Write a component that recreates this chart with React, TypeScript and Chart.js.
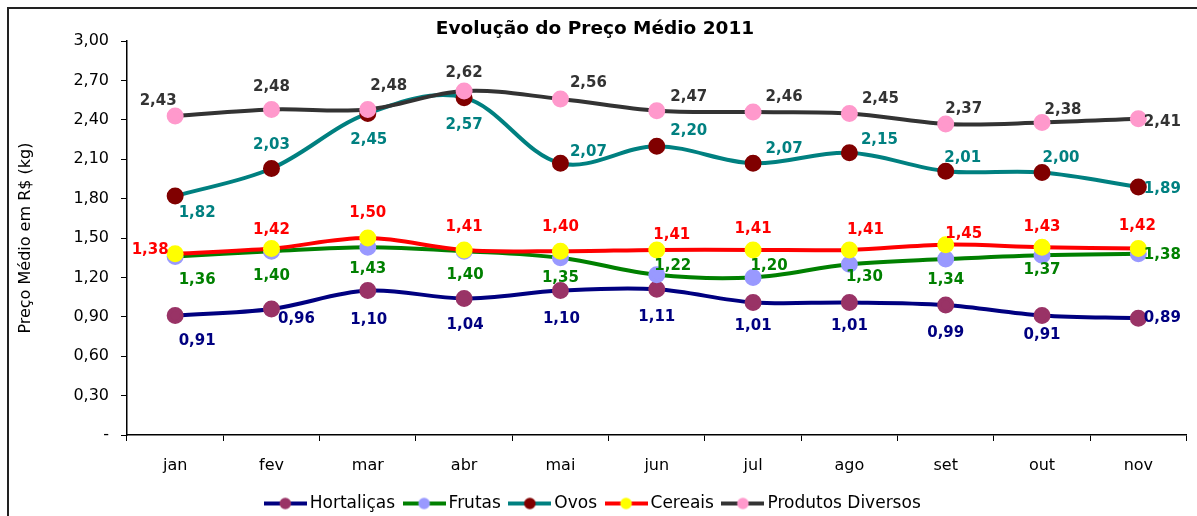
import React, { useEffect, useRef } from "react";
import { Chart, registerables } from "chart.js";

Chart.register(...registerables);

const months = ["jan", "fev", "mar", "abr", "mai", "jun", "jul", "ago", "set", "out", "nov"];
const hortalicas = [0.91, 0.96, 1.1, 1.04, 1.1, 1.11, 1.01, 1.01, 0.99, 0.91, 0.89];
const frutas = [1.36, 1.4, 1.43, 1.4, 1.35, 1.22, 1.2, 1.3, 1.34, 1.37, 1.38];
const ovos = [1.82, 2.03, 2.45, 2.57, 2.07, 2.2, 2.07, 2.15, 2.01, 2.0, 1.89];
const cereais = [1.38, 1.42, 1.5, 1.41, 1.4, 1.41, 1.41, 1.41, 1.45, 1.43, 1.42];
const diversos = [2.43, 2.48, 2.48, 2.62, 2.56, 2.47, 2.46, 2.45, 2.37, 2.38, 2.41];
const yTicks = [0, 0.3, 0.6, 0.9, 1.2, 1.5, 1.8, 2.1, 2.4, 2.7, 3.0];

const TITLE = "Evolução do Preço Médio 2011";
const Y_TITLE = "Preço Médio em R$ (kg)";

// label placement (pixel offsets from each point), style only
const labelOffsets: Record<string, [number, number][]> = {
  "Hortaliças": [[22, 26], [25, 10], [1, 30], [1, 27], [1, 29], [0, 28], [0, 24], [0, 24], [0, 28], [0, 20], [24, 0]],
  "Frutas": [[22, 24], [0, 25], [0, 22], [1, 24], [0, 20], [16, -9], [16, -11], [15, 13], [0, 21], [0, 15], [24, 1]],
  "Ovos": [[22, 17], [0, -23], [1, 27], [0, 27], [28, -11], [32, -15], [31, -14], [30, -13], [17, -13], [19, -14], [24, 2]],
  "Cereais": [[-25, -4], [0, -18], [0, -25], [0, -23], [0, -24], [15, -15], [0, -21], [16, -20], [18, -11], [0, -20], [-1, -22]],
  "Produtos Diversos": [[-17, -15], [0, -22], [21, -23], [0, -18], [28, -16], [32, -14], [31, -15], [31, -14], [18, -15], [21, -12], [24, 3]],
};

const series = [
  { label: "Hortaliças", data: hortalicas, line: "#000080", marker: "#993366", text: "#000080" },
  { label: "Frutas", data: frutas, line: "#008000", marker: "#9999FF", text: "#008000" },
  { label: "Ovos", data: ovos, line: "#008080", marker: "#800000", text: "#008080" },
  { label: "Cereais", data: cereais, line: "#FF0000", marker: "#FFFF00", text: "#FF0000" },
  { label: "Produtos Diversos", data: diversos, line: "#333333", marker: "#FF99CC", text: "#333333" },
];

const fmt = (v: number) => v.toFixed(2).replace(".", ",");

function legendIcon(line: string, marker: string) {
  const c = document.createElement("canvas");
  c.width = 43;
  c.height = 14;
  const ctx = c.getContext("2d")!;
  ctx.strokeStyle = line;
  ctx.lineWidth = 4;
  ctx.beginPath();
  ctx.moveTo(0, 7);
  ctx.lineTo(43, 7);
  ctx.stroke();
  ctx.fillStyle = marker;
  ctx.beginPath();
  ctx.arc(21.5, 7, 5.8, 0, Math.PI * 2);
  ctx.fill();
  return c;
}

const dataLabelPlugin = {
  id: "dataLabels",
  afterDatasetsDraw(chart: any) {
    const ctx = chart.ctx;
    ctx.save();
    ctx.font = "bold 15px 'DejaVu Sans', sans-serif";
    ctx.textAlign = "center";
    ctx.textBaseline = "middle";
    chart.data.datasets.forEach((ds: any, i: number) => {
      const meta = chart.getDatasetMeta(i);
      const offs = labelOffsets[ds.label];
      meta.data.forEach((pt: any, j: number) => {
        const [dx, dy] = offs[j];
        ctx.fillStyle = ds.textColor;
        ctx.fillText(fmt(ds.data[j]), pt.x + dx, pt.y + dy);
      });
    });
    ctx.restore();
  },
};

const borderPlugin = {
  id: "frame",
  afterDraw(chart: any) {
    const ctx = chart.ctx;
    ctx.save();
    ctx.strokeStyle = "#222";
    ctx.lineWidth = 2;
    ctx.beginPath();
    ctx.moveTo(8, 600);
    ctx.lineTo(8, 8);
    ctx.lineTo(1300, 8);
    ctx.stroke();
    ctx.restore();
  },
};

export default function App() {
  const ref = useRef<HTMLCanvasElement | null>(null);
  useEffect(() => {
    if (!ref.current) return;
    const n = series.length;
    const chart = new Chart(ref.current, {
      type: "line",
      data: {
        labels: months,
        datasets: series.map((s, i) => ({
          label: s.label,
          data: s.data,
          borderColor: s.line,
          backgroundColor: s.marker,
          pointBackgroundColor: s.marker,
          pointBorderColor: s.marker,
          pointRadius: 6.5,
          pointHoverRadius: 6.5,
          borderWidth: 4,
          tension: 0.35,
          order: n - i,
          textColor: s.text,
          pointStyle: "circle",
          legendIcon: legendIcon(s.line, s.marker),
        })) as any,
      },
      options: {
        animation: false,
        responsive: false,
        layout: { padding: { left: 0, right: 7, top: 0, bottom: -6 } },
        plugins: {
          title: {
            display: true,
            text: TITLE,
            color: "#000",
            font: { family: "'DejaVu Sans', sans-serif", size: 18.5, weight: "bold" },
            padding: { top: 18, bottom: 1 },
          },
          legend: {
            position: "bottom",
            labels: {
              usePointStyle: true,
              pointStyleWidth: 32,
              boxHeight: 14,
              padding: 13,
              color: "#000",
              font: { family: "'DejaVu Sans', sans-serif", size: 17 },
              sort: (a: any, b: any) => a.datasetIndex - b.datasetIndex,
              generateLabels: (chart: any) =>
                chart.data.datasets.map((ds: any, i: number) => ({
                  text: ds.label,
                  pointStyle: ds.legendIcon,
                  fillStyle: ds.backgroundColor,
                  strokeStyle: ds.borderColor,
                  lineWidth: 0,
                  datasetIndex: i,
                  fontColor: "#000",
                  hidden: false,
                })),
            },
          },
          tooltip: { enabled: false },
        },
        scales: {
          x: {
            offset: true,
            grid: {
              offset: true,
              drawOnChartArea: false,
              drawTicks: true,
              tickLength: 6,
              color: "#000",
              lineWidth: 1,
            },
            border: { color: "#000", width: 1.5 },
            ticks: {
              color: "#000",
              padding: 15,
              font: { family: "'DejaVu Sans', sans-serif", size: 16 },
            },
            afterFit: (scale: any) => {
              scale.height = 47;
            },
          },
          y: {
            min: 0,
            max: 3,
            afterBuildTicks: (scale: any) => {
              scale.ticks = yTicks.map((v) => ({ value: v }));
            },
            grid: {
              drawOnChartArea: false,
              drawTicks: true,
              tickLength: 6,
              color: "#000",
            },
            border: { color: "#000", width: 1.5 },
            ticks: {
              color: "#000",
              padding: 12,
              font: { family: "'DejaVu Sans', sans-serif", size: 16 },
              callback: (v: any) => (Math.abs(Number(v)) < 1e-9 ? "-" : fmt(Number(v))),
            },
            title: {
              display: true,
              text: Y_TITLE,
              color: "#000",
              font: { family: "'DejaVu Sans', sans-serif", size: 16 },
              padding: { top: 16, bottom: 0 },
            },
            afterFit: (scale: any) => {
              scale.width = 127;
            },
          },
        },
      },
      plugins: [dataLabelPlugin, borderPlugin],
    } as any);
    return () => chart.destroy();
  }, []);
  return (
    <div style={{ position: "absolute", left: 0, top: 0, width: 1197, height: 516, background: "#fff" }}>
      <canvas ref={ref} width={1197} height={516} style={{ display: "block" }} />
    </div>
  );
}
